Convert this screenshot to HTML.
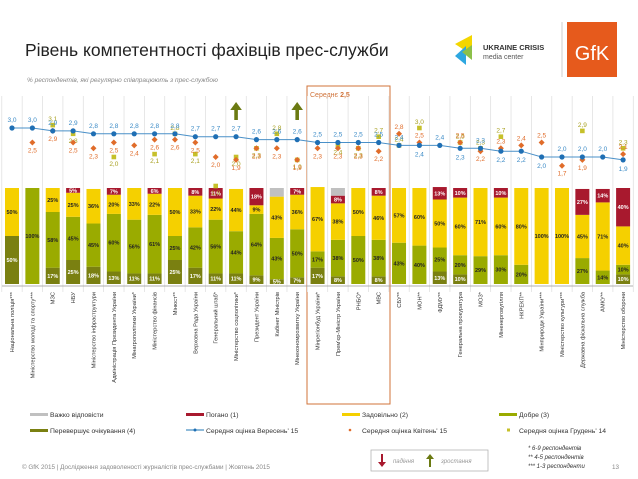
<!DOCTYPE html>
<html><head><meta charset="utf-8"><style>
body{margin:0;width:638px;height:479px;overflow:hidden;background:#fff;font-family:"Liberation Sans",sans-serif}
svg{display:block}
</style></head><body>
<svg id="c" width="638" height="479" xmlns="http://www.w3.org/2000/svg" font-family="Liberation Sans, sans-serif">
<text x="25" y="56" font-size="17.5" fill="#222">Рівень компетентності фахівців прес-служби</text>
<text x="27" y="82" font-size="6.5" font-style="italic" fill="#888">% респондентів, які регулярно співпрацюють з прес-службою</text>
<g>
<polygon points="455,44 472,35 472,55" fill="#f3d600"/><polygon points="455,56 466,46 466,65" fill="#2ea7e0"/><polygon points="462,52 472,45 472,60" fill="#8cc04a"/>
<text x="483" y="50" font-size="7.5" font-weight="bold" fill="#333">UKRAINE CRISIS</text>
<text x="483" y="59" font-size="7" fill="#555">media center</text>
</g>
<line x1="562" y1="22" x2="562" y2="77" stroke="#bbb" stroke-width="0.7"/>
<rect x="567" y="22" width="50" height="55" fill="#e65a1c"/>
<text x="592" y="60" font-size="20" fill="#fff" text-anchor="middle">GfK</text>
<rect x="307" y="86" width="83" height="318" fill="none" stroke="#d0733a" stroke-width="1"/>
<text x="310" y="97" font-size="7" fill="#d0733a">Середнє <tspan font-weight="bold">2,5</tspan></text>
<g id="plot"></g>
<g font-size="6.8" fill="#333">
<rect x="30" y="413" width="18" height="3" fill="#c0c0c0"/><text x="50" y="417">Важко відповісти</text>
<rect x="186" y="413" width="18" height="3" fill="#a8192e"/><text x="206" y="417">Погано (1)</text>
<rect x="342" y="413" width="18" height="3" fill="#f5d000"/><text x="362" y="417">Задовільно (2)</text>
<rect x="499" y="413" width="18" height="3" fill="#9aab00"/><text x="519" y="417">Добре (3)</text>
<rect x="30" y="429" width="18" height="3" fill="#7a8011"/><text x="50" y="433">Перевершує очікування (4)</text>
<line x1="186" y1="430" x2="204" y2="430" stroke="#1f77b4"/><circle cx="195" cy="430" r="1.5" fill="#1f6fb4"/><text x="206" y="433">Середня оцінка Вересень' 15</text>
<circle cx="350" cy="430" r="1.3" fill="#e06c2a"/><text x="362" y="433">Середня оцінка Квітень' 15</text>
<rect x="507" y="428.5" width="3" height="3" fill="#c6c02a"/><text x="519" y="433">Середня оцінка Грудень' 14</text>
</g>
<g>
<rect x="371" y="450" width="117" height="21" fill="#fff" stroke="#aaa" stroke-width="0.7"/>
<path d="M381,454 v8 h-3 l4,5 l4,-5 h-3 v-8z" fill="#a8192e"/>
<text x="393" y="463" font-size="6" font-style="italic" fill="#999">падіння</text>
<path d="M429,467 v-8 h-3 l4,-5 l4,5 h-3 v8z" fill="#6b7a12"/>
<text x="441" y="463" font-size="6" font-style="italic" fill="#999">зростання</text>
</g>
<g font-size="6" font-style="italic" fill="#333">
<text x="528" y="450">* 6-9 респондентів</text><text x="528" y="459">** 4-5 респондентів</text><text x="528" y="468">*** 1-3 респонденти</text>
</g>
<text x="22" y="469" font-size="6.3" fill="#888">© GfK 2015 | Дослідження задоволеності журналістів прес-службами | Жовтень 2015</text>
<text x="612" y="469" font-size="6.3" fill="#888">13</text>
</svg>
<script>
const categories=["Національна поліція***","Міністерство молоді та спорту***","МЗС","НБУ","Міністерство інфраструктури","Адміністрація Президента України","Мінагрополітики України*","Міністерство фінансів","Мінюст**","Верховна Рада України","Генеральний штаб*","Міністерство соцполітики*","Президент України","Кабінет Міністрів","Мінекономрозвитку України","Мінрегіонбуд України*","Прем'єр-Міністр України","РНБО*","МВС","СБУ**","МОН**","ФДМУ**","Генеральна прокуратура","МОЗ*","Міненерговугілля","НКРЕКП**","Мінприроди України***","Міністерство культури***","Державна фіскальна служба","АМКУ**","Міністерство оборони"];
const exceeds=[50,0,17,25,18,13,11,11,25,17,11,11,9,5,7,17,8,0,8,0,0,13,10,0,0,0,0,0,0,0,10];
const good=[0,100,58,45,45,60,56,61,25,42,56,44,64,43,50,17,38,50,38,43,40,25,20,29,30,20,0,0,27,14,10];
const satisf=[50,0,25,25,36,20,33,22,50,33,22,44,9,43,36,67,38,50,46,57,60,50,60,71,60,80,100,100,45,71,40];
const bad=[0,0,0,5,0,7,0,6,0,8,11,0,18,0,7,0,8,0,8,0,0,13,10,0,10,0,0,0,27,14,40];
const hard=[0,0,0,0,0,0,0,0,0,0,0,0,0,9,0,0,8,0,0,0,0,0,0,0,0,0,0,0,0,0,0];
const sep15=[3.0,3.0,2.9,2.9,2.8,2.8,2.8,2.8,2.8,2.7,2.7,2.7,2.6,2.6,2.6,2.5,2.5,2.5,2.5,2.4,2.4,2.4,2.3,2.3,2.2,2.2,2.0,2.0,2.0,2.0,1.9];
const apr15=[null,2.5,2.9,2.5,2.3,2.5,2.4,2.6,2.6,2.5,2.0,1.9,2.3,2.3,1.9,2.3,2.3,2.3,2.2,2.8,2.5,null,2.5,2.2,2.3,2.4,2.5,1.7,1.9,null,2.1];
const dec14=[null,null,3.1,2.8,null,2.0,null,2.1,2.8,2.1,1.0,2.0,2.3,2.8,1.9,null,2.4,2.3,2.7,2.4,3.0,null,2.5,2.3,2.7,null,null,null,2.9,null,2.3];
const risingIdx=[11,14];

const NS="http://www.w3.org/2000/svg";
const g=document.getElementById('plot');
const X=i=>12+i*20.37;
const Y=v=>128+(3-v)*29;
const barTop=188,barH=96;
const P=p=>barH*p/100;
function mk(t,a,p){const e=document.createElementNS(NS,t);for(const k in a)e.setAttribute(k,a[k]);(p||g).appendChild(e);return e;}
const fmt=v=>v.toFixed(1).replace('.',',');
for(let i=0;i<=categories.length;i++){
  const l=mk('line',{x1:X(i)-10.2,x2:X(i)-10.2,y1:96,y2:292,stroke:'#ddd','stroke-width':0.7});
  
  
}
const ax=mk('line',{x1:2,x2:633,y1:286,y2:286,stroke:'#999','stroke-width':0.7});


const segs=[[exceeds,'#7a8011','#fff'],[good,'#9aab00','#222'],[satisf,'#f5d000','#222'],[bad,'#a8192e','#fff'],[hard,'#c0c0c0','#222']];
categories.forEach((c,i)=>{
  let y=barTop+barH;
  segs.forEach(([arr,col,tc],k)=>{
    const v=arr[i];if(!v)return;
    const h=P(v);y-=h;
    const r=mk('rect',{x:X(i)-7,y:y,width:14,height:h,fill:col});
    
    
    if(k<4){const t=mk('text',{x:X(i),y:y+h/2+2,'font-size':5.5,'font-weight':'bold','text-anchor':'middle',fill:tc});t.textContent=v+'%';
      
      }
  });
  const lb=mk('text',{transform:`translate(${X(i)+2},292) rotate(-90)`,'font-size':5.7,'text-anchor':'end',fill:'#333'});
  lb.textContent=c;
  
  
});
const pl=mk('polyline',{points:sep15.map((v,i)=>X(i)+','+Y(v)).join(' '),fill:'none',stroke:'#4a90c8','stroke-width':1});


dec14.forEach((v,i)=>{if(v==null)return;
  const r=mk('rect',{x:X(i)-2.3,y:Y(v)-2.3,width:4.6,height:4.6,fill:'#c6c02a'});
  
  
  const above=v>=sep15[i];
  const t=mk('text',{x:X(i),y:above?Y(v)-4:Y(v)+9,'font-size':6.5,'text-anchor':'middle',fill:'#a8a020'});t.textContent=fmt(v);
  
  
});
apr15.forEach((v,i)=>{if(v==null)return;
  const y=Y(v);
  const r=mk('path',{d:`M${X(i)},${y-3} l3,3 l-3,3 l-3,-3z`,fill:'#e06c2a'});
  
  
  const above=v>sep15[i];
  const t=mk('text',{x:X(i),y:above?y-5:y+10,'font-size':6.5,'text-anchor':'middle',fill:'#e06c2a'});t.textContent=fmt(v);
  
  
});
sep15.forEach((v,i)=>{
  const c=mk('circle',{cx:X(i),cy:Y(v),r:2.6,fill:'#1f6fb4'});
  
  
  const below=(dec14[i]!=null&&dec14[i]>v+0.05&&apr15[i]!=null&&apr15[i]>v)||i==20||i==22||i==25||i==26||i==30;
  const t=mk('text',{x:X(i),y:below?Y(v)+11:Y(v)-6,'font-size':6.5,'text-anchor':'middle',fill:'#3a8ac6'});t.textContent=fmt(v);
  
  
});
risingIdx.forEach(i=>{
  const a=mk('path',{d:`M${X(i)-1.8},120 v-10 h-4 l5.8,-8 l5.8,8 h-4 v10z`,fill:'#6b7a12'});
  
  
});
</script>
</body></html>
